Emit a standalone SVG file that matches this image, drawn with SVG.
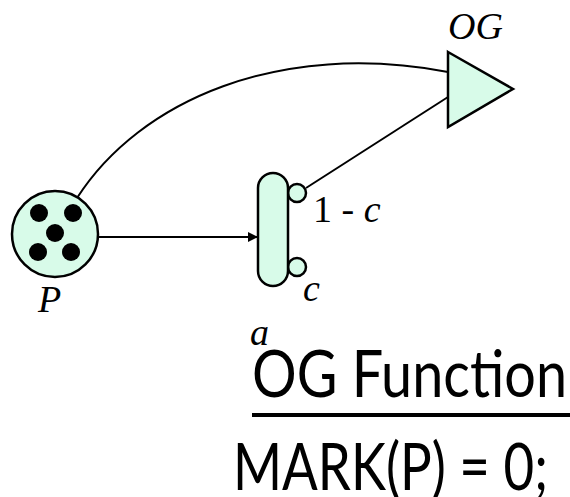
<svg xmlns="http://www.w3.org/2000/svg" width="570" height="497" viewBox="0 0 570 497">
<style>
.shape{fill:#d8fbe9;stroke:#000;stroke-width:2.5}
.tok{fill:#000}
.conn{fill:none;stroke:#000;stroke-width:2}
.it{font-family:"Liberation Serif",serif;font-style:italic;fill:#000;font-size:38px}
.rm{font-family:"Liberation Serif",serif;fill:#000;font-size:38px}
.big{font-family:Lato,"Open Sans",sans-serif;fill:#000;font-size:66px}
</style>
<defs>
<marker id="ah" viewBox="0 0 10 10" refX="10" refY="5" markerWidth="10" markerHeight="10" markerUnits="userSpaceOnUse" orient="auto">
<path d="M0,0 L10,5 L0,10 z" fill="#000"/>
</marker>
</defs>
<g id="connectors">
<path class="conn" d="M77,198 C140,100 280,40 448,72"/>
<line class="conn" x1="98" y1="237" x2="258" y2="237" marker-end="url(#ah)"/>
<line class="conn" x1="306" y1="188" x2="448" y2="97"/>
</g>
<g id="P">
<circle class="shape" cx="55" cy="234" r="43"/>
<circle class="tok" cx="39" cy="213" r="9"/>
<circle class="tok" cx="73" cy="213" r="9"/>
<circle class="tok" cx="55" cy="233" r="9"/>
<circle class="tok" cx="38" cy="252" r="9"/>
<circle class="tok" cx="71" cy="252" r="9"/>
<text class="it" x="38" y="312">P</text>
</g>
<g id="OG">
<polygon class="shape" points="448,52 513,89 448,127"/>
<text class="it" x="448" y="39" font-size="40">OG</text>
</g>
<g id="a">
<circle class="shape" cx="297" cy="193" r="9"/>
<circle class="shape" cx="297" cy="267" r="9"/>
<rect class="shape" x="258" y="173" width="30" height="113" rx="15" ry="15"/>
<text class="rm" x="313" y="222">1 - <tspan class="it">c</tspan></text>
<text class="it" x="303" y="301">c</text>
<text class="it" x="250" y="345">a</text>
</g>
<g id="caption">
<text class="big" x="252" y="397" textLength="315" lengthAdjust="spacingAndGlyphs">OG Function</text>
<rect x="252" y="413" width="318" height="4" fill="#000"/>
<text class="big" x="233" y="490" textLength="315" lengthAdjust="spacingAndGlyphs">MARK(P) = 0;</text>
</g>
</svg>
